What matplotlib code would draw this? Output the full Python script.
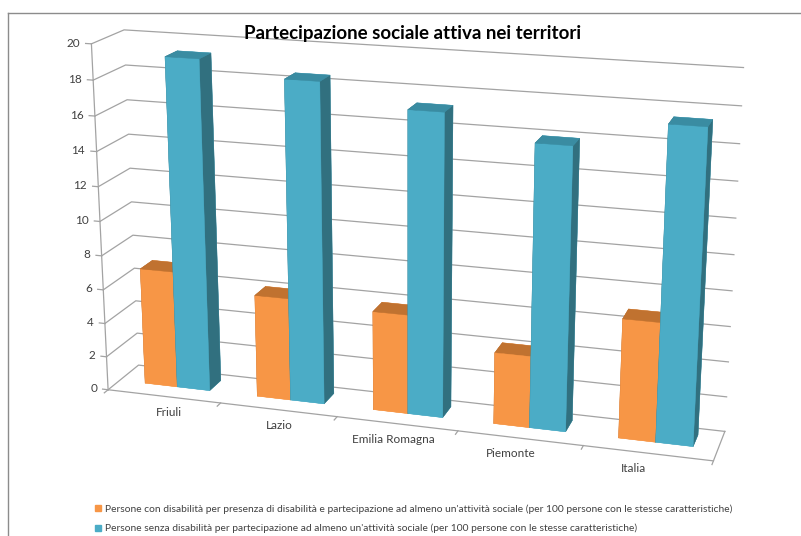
import matplotlib
matplotlib.use("Agg")
import matplotlib.pyplot as plt
from matplotlib.lines import Line2D
from mpl_toolkits.mplot3d import proj3d
import numpy as np

# Data
categories = ["Friuli", "Lazio", "Emilia Romagna", "Piemonte", "Italia"]
con_disabilita = [6.9, 6.0, 5.75, 4.1, 6.75]
senza_disabilita = [19.2, 18.4, 17.2, 15.9, 17.4]
z_ticks = list(range(0, 21, 2))
series_labels = [
    "Persone con disabilità per presenza di disabilità e partecipazione ad almeno un'attività sociale (per 100 persone con le stesse caratteristiche)",
    "Persone senza disabilità per partecipazione ad almeno un'attività sociale (per 100 persone con le stesse caratteristiche)",
]
title = "Partecipazione sociale attiva nei territori"

# Colours (front, top, side)
orange = ("#F79646", "#C07230", "#B8682A")
blue = ("#4BACC6", "#3A8CA2", "#31707F")
grid_col = "#a3a3a3"
text_col = "#404040"

plt.rcParams["font.family"] = ["Lato", "DejaVu Sans"]

W, H = 801, 536
fig = plt.figure(figsize=(W / 100, H / 100), dpi=100)
# A 3D axes is always drawn in a square box: make it as wide as the figure
side = W / H
ax = fig.add_axes([-0.004, 0.5 - side / 2 + 0.0365, 1.0, side], projection="3d")
ax.set_proj_type("persp", focal_length=0.45)
ax.view_init(elev=17, azim=-73)

n = len(categories)
depth = 1.0
ax.set_xlim(0, n)
ax.set_ylim(0, depth)
ax.set_zlim(0, 20)
ax.set_box_aspect((1.0, 0.12, 0.58), zoom=0.9)
ax.set_xticks([])
ax.set_yticks([])
ax.set_zticks([])
ax.set_axis_off()

proj = ax.get_proj()


def label_at(x, y, z, s, **kw):
    """Write a 2D label at the projected position of a 3D point."""
    px, py, _ = proj3d.proj_transform(x, y, z, proj)
    ax.text2D(px, py, s, transform=ax.transData, fontsize=8.5,
              color=text_col, **kw)


# Walls: horizontal gridlines on the left and back walls
for v in z_ticks:
    ax.plot([0, 0, n], [0, depth, depth], [v, v, v], color=grid_col, lw=0.9)
    ax.plot([0, -0.05], [0, 0], [v, v], color=grid_col, lw=0.9)
    label_at(-0.1, 0, v, str(v), ha="right", va="center")
# Vertical axis line and floor outline
ax.plot([0, 0], [0, 0], [0, 20], color=grid_col, lw=0.9)
ax.plot([0, n, n], [0, 0, depth], [0, 0, 0], color=grid_col, lw=0.9)
for i in range(n + 1):
    ax.plot([i, i], [0, -0.12], [0, 0], color=grid_col, lw=0.9)

# Bars: two series side by side in each category
bw = 0.29
bd = 0.4
y0 = 0.38
xs, ys, dzs, cols = [], [], [], []
for i in range(n):
    for k, (vals, c) in enumerate(((con_disabilita, orange), (senza_disabilita, blue))):
        xs.append(i + 0.23 + k * bw)
        ys.append(y0)
        dzs.append(vals[i])
        front, top, sidec = c
        # face order: bottom, top, front(-y), back(+y), left(-x), right(+x)
        cols += [front, top, front, front, sidec, sidec]
ax.bar3d(xs, ys, np.zeros(len(xs)), bw, bd, dzs, color=cols, shade=False,
         edgecolor=cols, linewidth=0.3)

# Category labels under the front edge of the floor
for i, name in enumerate(categories):
    label_at(0.54 + i * 0.963, 0, -0.95, name, ha="center", va="center")

fig.text(413 / W, 1 - 33 / H, title, ha="center", va="center",
         fontsize=13.5, fontweight="bold", color="black")

# Chart area border (top and left)
fig.add_artist(Line2D([8 / W, 1], [1 - 13 / H] * 2, color="#8c8c8c", lw=1))
fig.add_artist(Line2D([8 / W] * 2, [0, 1 - 13 / H], color="#8c8c8c", lw=1))

handles = [Line2D([], [], marker="s", linestyle="", markersize=5,
                  markerfacecolor=c[0], markeredgecolor=c[0])
           for c in (orange, blue)]
fig.legend(handles, series_labels, loc="upper left",
           bbox_to_anchor=(91 / W, 1 - 500 / H), frameon=False,
           fontsize=7.4, handlelength=0.6, handletextpad=0.35,
           labelspacing=1.0, labelcolor=text_col, borderaxespad=0)

fig.savefig("out.png", dpi=100)
